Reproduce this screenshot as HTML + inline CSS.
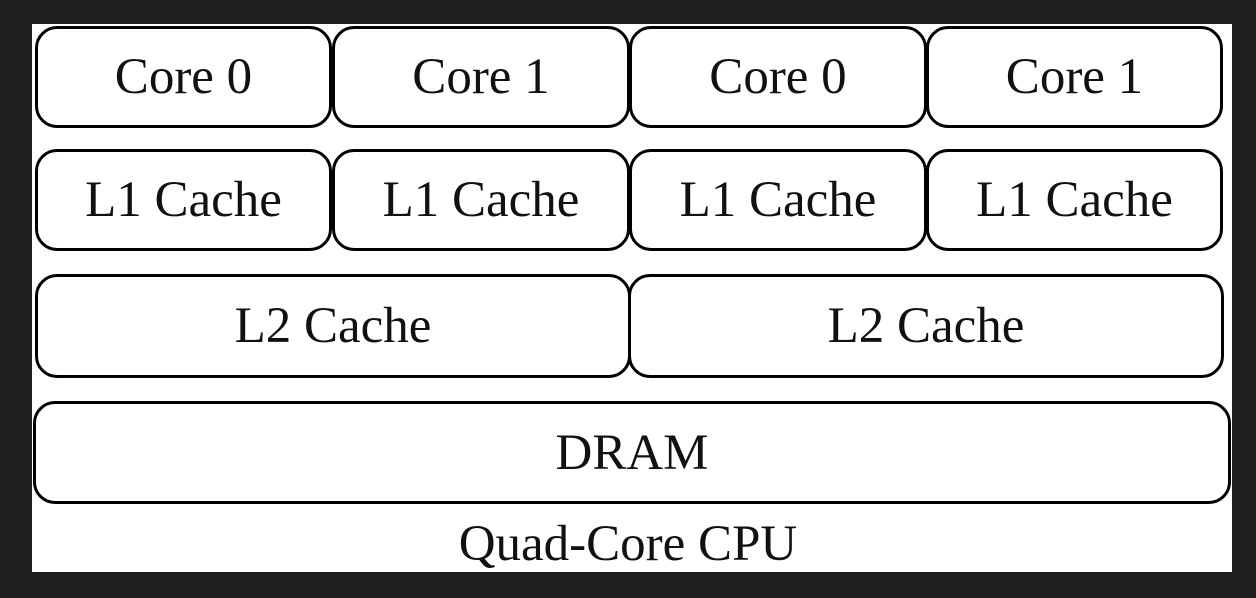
<!DOCTYPE html>
<html><head><style>
html,body{margin:0;padding:0;}
body{width:1256px;height:598px;background:#1e1e1e;position:relative;overflow:hidden;font-family:"Liberation Serif",serif;}
#w{position:absolute;left:32px;top:24px;width:1200px;height:548px;background:#fff;}
.b{position:absolute;box-sizing:border-box;border:3px solid #000;border-radius:22px;background:#fff;display:flex;align-items:center;justify-content:center;font-size:51px;color:#111;}
.t{position:absolute;left:0;width:1256px;text-align:center;font-size:51px;color:#111;}
</style></head><body>
<div id="w"></div>
<div class="b" style="left:35px;top:26px;width:297px;height:102px">Core 0</div>
<div class="b" style="left:332px;top:26px;width:298px;height:102px">Core 1</div>
<div class="b" style="left:629px;top:26px;width:298px;height:102px">Core 0</div>
<div class="b" style="left:926px;top:26px;width:297px;height:102px">Core 1</div>
<div class="b" style="left:35px;top:149px;width:297px;height:102px">L1 Cache</div>
<div class="b" style="left:332px;top:149px;width:298px;height:102px">L1 Cache</div>
<div class="b" style="left:629px;top:149px;width:298px;height:102px">L1 Cache</div>
<div class="b" style="left:926px;top:149px;width:297px;height:102px">L1 Cache</div>
<div class="b" style="left:35px;top:274px;width:596px;height:104px">L2 Cache</div>
<div class="b" style="left:628px;top:274px;width:596px;height:104px">L2 Cache</div>
<div class="b" style="left:33px;top:401px;width:1198px;height:103px">DRAM</div>
<div class="t" style="top:514px;line-height:60px;">Quad-Core CPU</div>
</body></html>
